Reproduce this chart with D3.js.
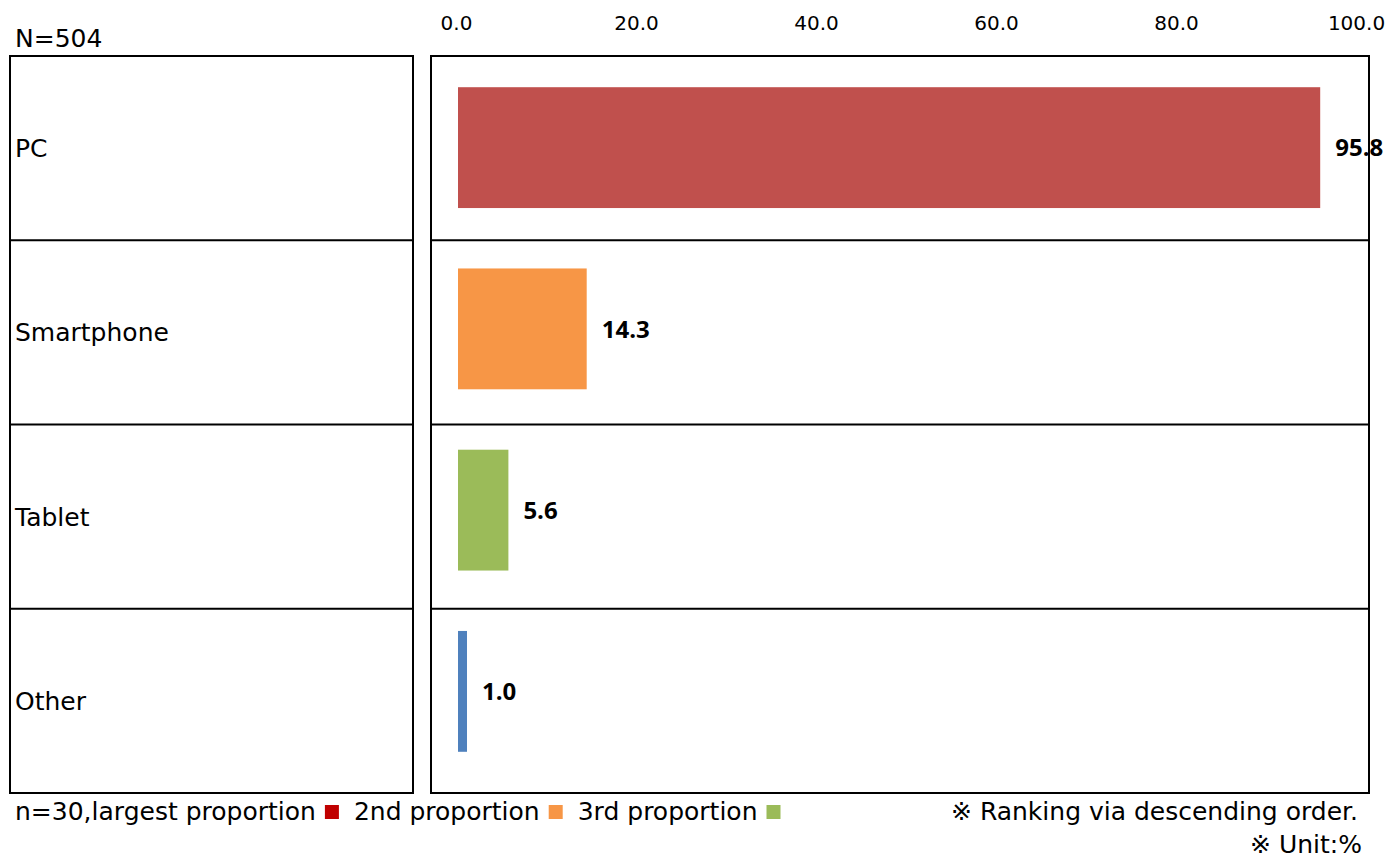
<!DOCTYPE html>
<html>
<head>
<meta charset="utf-8">
<script src="https://cdn.jsdelivr.net/npm/d3@7"></script>
<style>
  body { margin: 0; background: #fff; }
  svg { display: block; }
  text { font-family: "DejaVu Sans", sans-serif; fill: #000; }
  .tick text { font-family: "DejaVu Sans", sans-serif; font-size: 20px; }
  .val-label { font-family: "Open Sans", "Noto Sans", sans-serif; font-weight: bold; font-size: 24px; }
  .lbl { font-size: 25px; }
</style>
</head>
<body>
<svg id="chart" width="1388" height="858"></svg>
<script>
// data
const categories = ["PC", "Smartphone", "Tablet", "Other"];
const values = [95.8, 14.3, 5.6, 1.0];
const barColors = ["#C0504D", "#F79646", "#9BBB59", "#4F81BD"];
const tickValues = [0, 20, 40, 60, 80, 100];
const legendLabels = ["n=30,largest proportion", "2nd proportion", "3rd proportion"];
const legendColors = ["#C00000", "#F79646", "#9BBB59"];

const svg = d3.select("#chart");

const box = { top: 56, bottom: 793, labelLeft: 10, labelRight: 413, plotLeft: 431, plotRight: 1369 };

// scales: rows of the table and the bars sit on slightly different bands
const x = d3.scaleLinear().domain([0, 100]).range([458, 1358]);
const yRow = d3.scaleBand().domain(categories).range([box.top, box.bottom]);
const yBar = d3.scaleBand().domain(categories).range([57, 782]).paddingInner(1 / 3).paddingOuter(1 / 6);

// N label
svg.append("text")
    .classed("lbl", true)
    .attr("x", 15)
    .attr("y", 47)
    .text("N=504");

// top axis
const axis = svg.append("g")
    .attr("transform", `translate(-2, 30)`)
    .call(d3.axisTop(x).tickValues(tickValues).tickSize(0).tickPadding(0).tickFormat(d3.format(".1f")));
axis.select(".domain").remove();
axis.selectAll(".tick text").attr("dy", 0).attr("fill", "#000");

// row separators and boxes
const rowLines = svg.append("g");
categories.forEach((c, i) => {
    if (i === 0) return;
    [[box.labelLeft, box.labelRight], [box.plotLeft, box.plotRight]].forEach(([a, b]) => {
        rowLines.append("line")
            .attr("x1", a).attr("x2", b)
            .attr("y1", yRow(c)).attr("y2", yRow(c))
            .attr("stroke", "#000").attr("stroke-width", 2);
    });
});

[[box.labelLeft, box.labelRight], [box.plotLeft, box.plotRight]].forEach(([a, b]) => {
    svg.append("rect")
        .attr("x", a).attr("y", box.top)
        .attr("width", b - a).attr("height", box.bottom - box.top)
        .attr("fill", "none")
        .attr("stroke", "#000").attr("stroke-width", 2);
});

// category labels
svg.selectAll("text.cat")
    .data(categories)
    .enter()
    .append("text")
    .classed("cat lbl", true)
    .attr("x", 15)
    .attr("y", d => yRow(d) + yRow.bandwidth() / 2)
    .attr("dy", "0.36em")
    .text(d => d);

// bars
const bgs = svg.selectAll("g.bar-gp")
    .data(categories.map((c, i) => ({ cat: c, value: values[i], color: barColors[i] })))
    .enter()
    .append("g")
    .classed("bar-gp", true)
    .attr("transform", d => `translate(0, ${yBar(d.cat)})`);

bgs.append("rect")
    .attr("x", x(0))
    .attr("width", d => x(d.value) - x(0))
    .attr("height", yBar.bandwidth())
    .attr("fill", d => d.color);

bgs.append("text")
    .classed("val-label", true)
    .attr("x", d => x(d.value) + 15)
    .attr("y", yBar.bandwidth() / 2)
    .attr("dy", "0.36em")
    .text(d => d3.format(".1f")(d.value));

// right border drawn over the 95.8 label like the reference
svg.append("line")
    .attr("x1", box.plotRight).attr("x2", box.plotRight)
    .attr("y1", box.top).attr("y2", box.bottom)
    .attr("stroke", "#000").attr("stroke-width", 2);

// legend
let lx = 15;
const lg = svg.append("g");
legendLabels.forEach((t, i) => {
    const txt = lg.append("text")
        .classed("lbl", true)
        .attr("x", lx)
        .attr("y", 820)
        .text(t);
    const w = txt.node().getComputedTextLength();
    lg.append("rect")
        .attr("x", lx + w + 9)
        .attr("y", 805)
        .attr("width", 14)
        .attr("height", 14)
        .attr("fill", legendColors[i]);
    lx += w + 9 + 14 + 15;
});

svg.append("text")
    .classed("lbl", true)
    .attr("x", 1358)
    .attr("y", 820)
    .attr("text-anchor", "end")
    .text("※ Ranking via descending order.");

svg.append("text")
    .classed("lbl", true)
    .attr("x", 1362)
    .attr("y", 853)
    .attr("text-anchor", "end")
    .text("※ Unit:%");
</script>
</body>
</html>
